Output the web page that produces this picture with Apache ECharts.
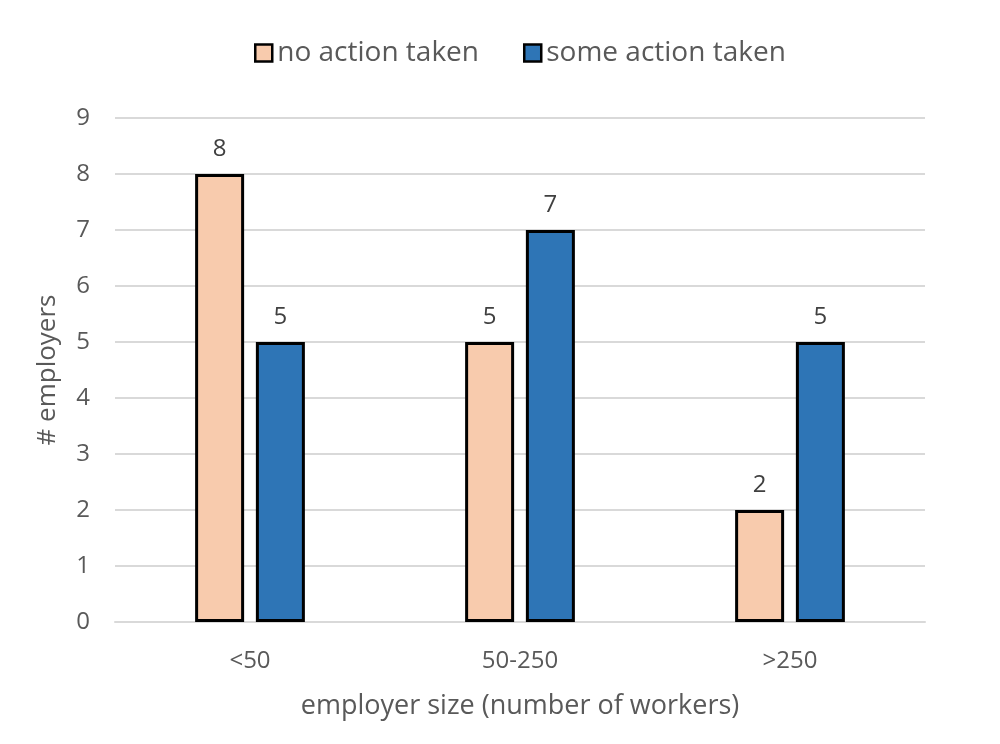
<!DOCTYPE html>
<html>
<head>
    <meta charset="utf-8">
    <title>employers</title>
    <script src="https://cdn.jsdelivr.net/npm/echarts@6/dist/echarts.min.js"></script>
    <style>html,body{margin:0;padding:0;background:#fff;}</style>
</head>
<body>
    <div id="main" style="width:1000px;height:744px;"></div>
    <script type="text/javascript">
var categories = ['<50', '50-250', '>250'];
var noAction = [8, 5, 2];
var someAction = [5, 7, 5];

var txt = '#595959';
var font = 'Open Sans';

var myChart = echarts.init(document.getElementById('main'));
myChart.setOption({
    animation: false,
    textStyle: { fontFamily: font, color: txt },
    legend: {
        top: 34,
        left: 249,
        icon: 'rect',
        itemWidth: 17,
        itemHeight: 17,
        itemGap: 44,
        textStyle: { fontSize: 28, color: txt, fontFamily: font },
        itemStyle: { borderColor: '#000', borderWidth: 2.5 },
        data: ['no action taken', 'some action taken']
    },
    grid: { left: 115, right: 75, top: 118, bottom: 122 },
    xAxis: {
        type: 'category',
        data: categories,
        axisTick: { show: false },
        axisLine: { lineStyle: { color: '#d9d9d9', width: 2 } },
        axisLabel: { fontSize: 24, color: txt, margin: 27, fontFamily: font },
        name: 'employer size (number of workers)',
        nameLocation: 'middle',
        nameGap: 71,
        nameTextStyle: { fontSize: 27, color: txt, fontFamily: font }
    },
    yAxis: {
        type: 'value',
        min: 0,
        max: 9,
        interval: 1,
        axisLine: { show: false },
        axisTick: { show: false },
        splitLine: { lineStyle: { color: '#d9d9d9', width: 2 } },
        axisLabel: { fontSize: 24, color: txt, margin: 25, fontFamily: font },
        name: '# employers',
        nameLocation: 'middle',
        nameGap: 54,
        nameRotate: 90,
        nameTextStyle: { fontSize: 26, color: txt, fontFamily: font }
    },
    series: [
        {
            name: 'no action taken',
            type: 'bar',
            data: noAction,
            barWidth: 49,
            barGap: '24%',
            itemStyle: { color: '#F8CBAD', borderColor: '#000', borderWidth: 3 },
            label: { show: true, position: 'top', distance: 13, fontSize: 24, color: '#404040', fontFamily: font }
        },
        {
            name: 'some action taken',
            type: 'bar',
            data: someAction,
            barWidth: 49,
            itemStyle: { color: '#2E75B6', borderColor: '#000', borderWidth: 3 },
            label: { show: true, position: 'top', distance: 13, fontSize: 24, color: '#404040', fontFamily: font }
        }
    ]
});
</script>
</body>
</html>
